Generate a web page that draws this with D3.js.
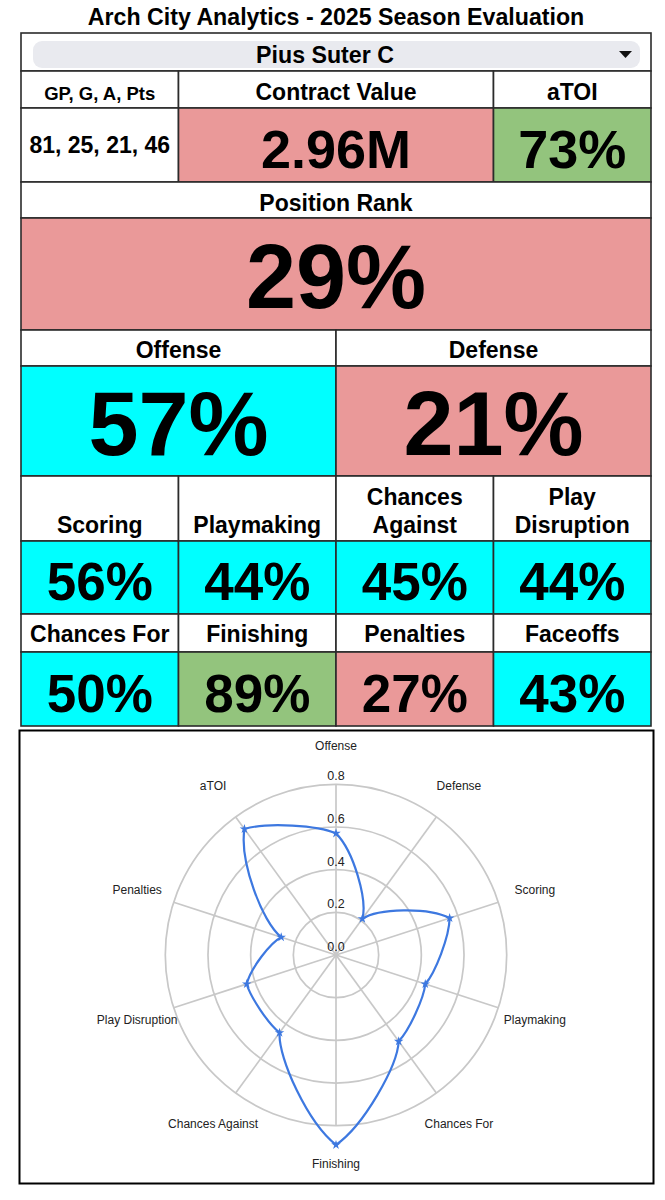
<!DOCTYPE html>
<html>
<head>
<meta charset="utf-8">
<script src="https://cdn.jsdelivr.net/npm/d3@7"></script>
<style>
  body { margin: 0; background: #fff; }
  svg { display: block; }
  text { font-family: "Liberation Sans", Arial, sans-serif; fill: #000; text-anchor: middle; }
  .cell text, .head { font-weight: bold; }
</style>
</head>
<body>
<div id="chart"></div>
<script>
var titleText = 'Arch City Analytics - 2025 Season Evaluation';
var playerName = 'Pius Suter C';
var statLine = '81, 25, 21, 46';
var contractValue = '2.96M';

var radarLabels = ['Offense', 'Defense', 'Scoring', 'Playmaking', 'Chances For', 'Finishing',
                   'Chances Against', 'Play Disruption', 'Penalties', 'aTOI'];
var radarValues = [0.57, 0.21, 0.56, 0.44, 0.50, 0.89, 0.45, 0.44, 0.27, 0.73];

var atoiPct = 73;
var rankPct = 29;
var mainLabels = ['Offense', 'Defense'];
var mainPcts = [57, 21];
var upperLabels = [['Scoring'], ['Playmaking'], ['Chances', 'Against'], ['Play', 'Disruption']];
var upperPcts = [56, 44, 45, 44];
var lowerLabels = [['Chances For'], ['Finishing'], ['Penalties'], ['Faceoffs']];
var lowerPcts = [50, 89, 27, 43];

var RED = '#ea9999', CYAN = '#00ffff', GREEN = '#93c47d';
var pctColor = d3.scaleThreshold().domain([30, 60]).range([RED, CYAN, GREEN]);

var svg = d3.select('#chart').append('svg').attr('width', 665).attr('height', 1200);

// table grid
var x = d3.scaleLinear().domain([0, 4]).range([21, 651]);

function cell(col0, col1, y0, y1, fill) {
  svg.append('rect')
    .attr('x', x(col0)).attr('y', y0)
    .attr('width', x(col1) - x(col0)).attr('height', y1 - y0)
    .attr('fill', fill).attr('stroke', '#2b2b2b').attr('stroke-width', 1.6);
}

function label(txt, cx, y, size) {
  svg.append('text').attr('class', 'head')
    .attr('x', cx).attr('y', y)
    .style('font-size', size + 'px')
    .text(txt);
}

function headCell(lines, col0, col1, y0, y1, baseline, size) {
  cell(col0, col1, y0, y1, '#fff');
  lines.forEach(function(l, i) {
    label(l, (x(col0) + x(col1)) / 2, baseline - (lines.length - 1 - i) * 28, size);
  });
}

function valueCell(txt, col0, col1, y0, y1, baseline, size, fill) {
  cell(col0, col1, y0, y1, fill);
  label(txt, (x(col0) + x(col1)) / 2, baseline, size);
}

label(titleText, 336, 25, 23.2);

// player dropdown row
cell(0, 4, 33, 71, '#fff');
svg.append('rect').attr('x', 33).attr('y', 41).attr('width', 607).attr('height', 27)
  .attr('rx', 9).attr('fill', '#e9eaef');
label(playerName, 325, 63, 23.2);
svg.append('path').attr('d', 'M619,51L632,51L625.5,58Z').attr('fill', '#111');

headCell(['GP, G, A, Pts'], 0, 1, 71, 108, 100, 18.5);
headCell(['Contract Value'], 1, 3, 71, 108, 100, 23);
headCell(['aTOI'], 3, 4, 71, 108, 100, 23);
valueCell(statLine, 0, 1, 108, 182, 153, 23, '#fff');
valueCell(contractValue, 1, 3, 108, 182, 168, 54, RED);
valueCell(atoiPct + '%', 3, 4, 108, 182, 168, 54, pctColor(atoiPct));

headCell(['Position Rank'], 0, 4, 182, 218, 211, 23);
valueCell(rankPct + '%', 0, 4, 218, 330, 308, 90, pctColor(rankPct));

mainLabels.forEach(function(d, i) {
  headCell([d], i * 2, i * 2 + 2, 330, 366, 358, 23);
  valueCell(mainPcts[i] + '%', i * 2, i * 2 + 2, 366, 476, 455, 90, pctColor(mainPcts[i]));
});

upperLabels.forEach(function(d, i) {
  headCell(d, i, i + 1, 476, 541, 532.5, 23);
  valueCell(upperPcts[i] + '%', i, i + 1, 541, 614, 600, 53, pctColor(upperPcts[i]));
});

lowerLabels.forEach(function(d, i) {
  headCell(d, i, i + 1, 614, 652, 642, 23);
  valueCell(lowerPcts[i] + '%', i, i + 1, 652, 726, 712, 53, pctColor(lowerPcts[i]));
});

// radar chart
svg.append('rect').attr('x', 19.5).attr('y', 730.5).attr('width', 634).attr('height', 453)
  .attr('fill', '#fff').attr('stroke', '#000').attr('stroke-width', 2);

var cx = 336, cy = 955;
var r = d3.scaleLinear().domain([0, 0.8]).range([0, 170.7]);
var angle = d3.scaleLinear().domain([0, radarLabels.length]).range([0, 2 * Math.PI]);
var radar = svg.append('g').attr('transform', 'translate(' + cx + ',' + cy + ')');
var gridColor = '#c8c8c8';

radar.selectAll('.ring').data(r.ticks(4).slice(1)).enter().append('circle')
  .attr('class', 'ring')
  .attr('r', function(d) { return r(d); })
  .attr('fill', 'none').attr('stroke', gridColor).attr('stroke-width', 1.7);

radar.selectAll('.spoke').data(radarLabels).enter().append('line')
  .attr('class', 'spoke')
  .attr('x2', function(d, i) { return r(0.8) * Math.sin(angle(i)); })
  .attr('y2', function(d, i) { return -r(0.8) * Math.cos(angle(i)); })
  .attr('stroke', gridColor).attr('stroke-width', 1.7);

radar.selectAll('.tick-label').data(r.ticks(4)).enter().append('text')
  .attr('class', 'tick-label')
  .attr('y', function(d) { return -r(d) - 4; })
  .style('font-size', '12.5px').style('fill', '#222')
  .text(function(d) { return d.toFixed(1); });

radar.selectAll('.axis-label').data(radarLabels).enter().append('text')
  .attr('class', 'axis-label')
  .attr('x', function(d, i) { return r(0.98) * Math.sin(angle(i)); })
  .attr('y', function(d, i) { return -r(0.98) * Math.cos(angle(i)) + 4; })
  .style('font-size', '12px').style('fill', '#222')
  .text(function(d) { return d; });

// each segment bows outward between points and leaves a sharp corner at each one
function radarPath(values) {
  var n = values.length;
  var dTheta = angle(1) - angle(0);
  var k = 0.7 * dTheta / 3;
  var p = d3.path();

  function pos(rad, th) {
    return [rad * Math.sin(th), -rad * Math.cos(th)];
  }

  values.forEach(function(d, i) {
    var th0 = angle(i), th1 = angle(i + 1);
    var r0 = r(d), r1 = r(values[(i + 1) % n]);
    var rate = (r1 - r0) / dTheta;
    var p0 = pos(r0, th0), p1 = pos(r1, th1);
    var v0 = [rate * Math.sin(th0) + r0 * Math.cos(th0), -rate * Math.cos(th0) + r0 * Math.sin(th0)];
    var v1 = [rate * Math.sin(th1) + r1 * Math.cos(th1), -rate * Math.cos(th1) + r1 * Math.sin(th1)];
    if (i === 0) p.moveTo(p0[0], p0[1]);
    p.bezierCurveTo(p0[0] + k * v0[0], p0[1] + k * v0[1], p1[0] - k * v1[0], p1[1] - k * v1[1], p1[0], p1[1]);
  });
  p.closePath();
  return p.toString();
}

var lineColor = '#3d78e0';
radar.append('path').datum(radarValues)
  .attr('d', radarPath)
  .attr('fill', 'none').attr('stroke', lineColor).attr('stroke-width', 2.2);

radar.selectAll('.point').data(radarValues).enter().append('path')
  .attr('class', 'point')
  .attr('d', d3.symbol().type(d3.symbolStar).size(28))
  .attr('transform', function(d, i) {
    return 'translate(' + r(d) * Math.sin(angle(i)) + ',' + (-r(d) * Math.cos(angle(i))) + ')';
  })
  .attr('fill', lineColor);
</script>
</body>
</html>
